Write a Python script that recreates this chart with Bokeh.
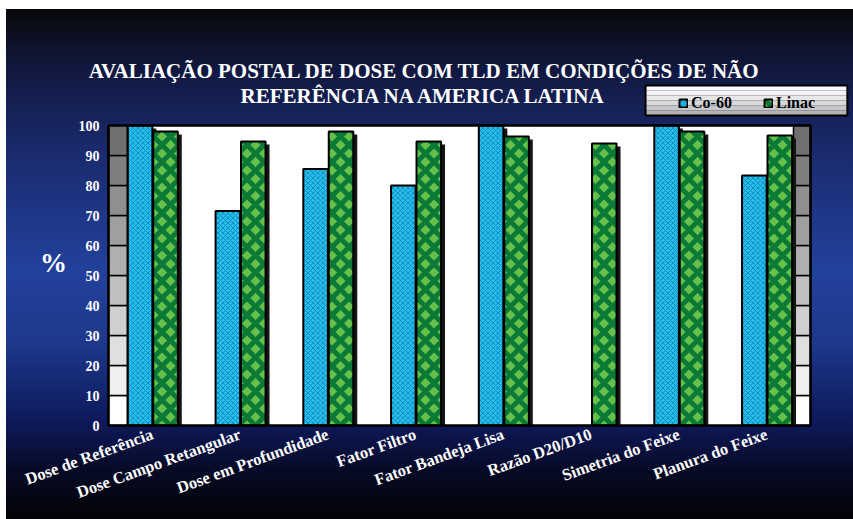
from bokeh.plotting import figure
from bokeh.models import ColumnDataSource, Legend, LegendItem, Label, Range1d
from bokeh.transform import dodge
from bokeh.embed import file_html
from bokeh.resources import INLINE

# ---- data ----
categories = ["Dose de Referência", "Dose Campo Retangular", "Dose em Profundidade",
              "Fator Filtro", "Fator Bandeja Lisa", "Razão D20/D10",
              "Simetria do Feixe", "Planura do Feixe"]
co60 = [100, 71.5, 85.5, 80, 100, None, 100, 83.3]
linac = [98, 94.7, 98, 94.7, 96.3, 94, 98, 96.7]
series_names = ["Co-60", "Linac"]
y_ticks = [0, 10, 20, 30, 40, 50, 60, 70, 80, 90, 100]
title_lines = ["AVALIAÇÃO POSTAL DE DOSE COM TLD EM CONDIÇÕES DE NÃO",
               "REFERÊNCIA NA AMERICA LATINA"]
y_label = "%"

FONT = "Liberation Serif"

centers = [i + 0.5 for i in range(len(categories))]
co_src = ColumnDataSource(dict(
    x=[c for c, v in zip(centers, co60) if v is not None],
    val=[v for v in co60 if v is not None],
    sh=[v - 1 for v in co60 if v is not None]))
li_src = ColumnDataSource(dict(x=centers, val=linac, sh=[v - 1 for v in linac]))

# frame covers the whole canvas; axes are pinned with fixed_location
p = figure(x_range=Range1d(-1.2308, 8.49), y_range=Range1d(-31.33, 141.67),
           width=853, height=519, output_backend="svg", toolbar_location=None,
           min_border_left=0, min_border_right=0, min_border_top=0, min_border_bottom=0,
           background_fill_color=None, border_fill_color=None, outline_line_color=None)
p.styles = {"background":
            "linear-gradient(to right, #ffffff 0px, #ffffff 6px, rgba(255,255,255,0) 6px), "
            "linear-gradient(to bottom, #ffffff 0px, #ffffff 9px, rgba(255,255,255,0) 9px), "
            "linear-gradient(to bottom, #09090b 9px, #111840 70px, #1a2a6c 150px, #22419c 270px, "
            "#1e398c 340px, #0e1a5c 420px, #070a26 470px, #030304 519px)"}

# plot area and walls (decoration)
p.quad(left=0, right=8, bottom=0, top=100, fill_color="white", line_color=None)
n = len(y_ticks) - 1
grays = ["#%02x%02x%02x" % (g, g, g) for g in
         [int(255 - (255 - 112) * (i / (n - 1))) for i in range(n)]]
wall = ColumnDataSource(dict(bottom=y_ticks[:-1], top=y_ticks[1:], color=grays))
p.quad(left=0, right=0.215, bottom="bottom", top="top", fill_color="color",
       line_color="black", line_width=1.5, source=wall)
p.quad(left=7.806, right=8.0, bottom="bottom", top="top", fill_color="color",
       line_color="black", line_width=1.5, source=wall)

# shadows
p.vbar(x=dodge("x", -0.14 + 0.045), top="sh", width=0.28,
       source=co_src, fill_color="#151515", line_color=None)
p.vbar(x=dodge("x", 0.15 + 0.045), top="sh", width=0.28,
       source=li_src, fill_color="#151515", line_color=None)

r1 = p.vbar(x=dodge("x", -0.14), top="val", width=0.28, source=co_src,
            fill_color="#25bdea", line_color="black", line_width=2,
            hatch_pattern="diagonal_cross", hatch_color="#1590c4", hatch_scale=5, hatch_weight=1)
r2 = p.vbar(x=dodge("x", 0.15), top="val", width=0.28, source=li_src,
            fill_color="#66c04a", line_color="black", line_width=2,
            hatch_pattern="diagonal_cross", hatch_color="#0b7a36", hatch_scale=17, hatch_weight=5)

# plot-area outline
p.quad(left=0, right=8, bottom=0, top=100, fill_color=None, line_color="black", line_width=2.5)

# axes
p.xgrid.grid_line_color = None
p.ygrid.grid_line_color = None
p.yaxis.fixed_location = 0
p.yaxis.ticker = y_ticks
p.yaxis.axis_line_color = None
p.yaxis.major_tick_line_color = None
p.yaxis.minor_tick_line_color = None
p.yaxis.major_tick_out = 0
p.yaxis.major_label_standoff = 9
p.yaxis.major_label_text_color = "white"
p.yaxis.major_label_text_font = FONT
p.yaxis.major_label_text_font_style = "bold"
p.yaxis.major_label_text_font_size = "14px"

p.xaxis.fixed_location = 0
p.xaxis.ticker = centers
p.xaxis.major_label_overrides = {c: name for c, name in zip(centers, categories)}
p.xaxis.axis_line_color = None
p.xaxis.major_tick_line_color = None
p.xaxis.minor_tick_line_color = None
p.xaxis.major_tick_out = 0
p.xaxis.major_label_standoff = 8
p.xaxis.major_label_orientation = 0.35
p.xaxis.major_label_text_color = "white"
p.xaxis.major_label_text_font = FONT
p.xaxis.major_label_text_font_style = "bold"
p.xaxis.major_label_text_font_size = "16.5px"

# y label "%"
p.add_layout(Label(x=-0.628, y=54.3, text=y_label, text_align="center", text_baseline="middle",
                   text_color="white", text_font=FONT, text_font_style="bold",
                   text_font_size="27px"))

# title
for txt, yy in zip(title_lines, [118.3, 110.0]):
    p.add_layout(Label(x=3.6, y=yy, text=txt, text_align="center", text_baseline="alphabetic",
                       text_color="white", text_font=FONT, text_font_style="bold",
                       text_font_size="21px"))

# legend box (gradient bands) and legend
bands = 6
lg_bottom, lg_top = 103.33, 113.33
for i in range(bands):
    b = lg_top - (lg_top - lg_bottom) * (i + 1) / bands
    t = lg_top - (lg_top - lg_bottom) * i / bands
    g = int(250 - 70 * (i / (bands - 1)) ** 1.5)
    p.quad(left=6.12, right=8.42, bottom=b, top=t, fill_color="#%02x%02x%02x" % (g, g, g),
           line_color=None)
p.quad(left=6.12, right=8.42, bottom=lg_bottom, top=lg_top, fill_color=None,
       line_color="black", line_width=2)

legend = Legend(items=[LegendItem(label=series_names[0], renderers=[r1]),
                       LegendItem(label=series_names[1], renderers=[r2])],
                orientation="horizontal", location=(678, 407),
                background_fill_alpha=0, border_line_color=None,
                label_text_font=FONT, label_text_font_style="bold", label_text_font_size="16px",
                label_text_color="black", glyph_width=10, glyph_height=10,
                label_standoff=3, label_width=45, label_height=16, spacing=27, padding=4,
                margin=0)
p.add_layout(legend)

open("out.html", "w").write(file_html(p, INLINE))
